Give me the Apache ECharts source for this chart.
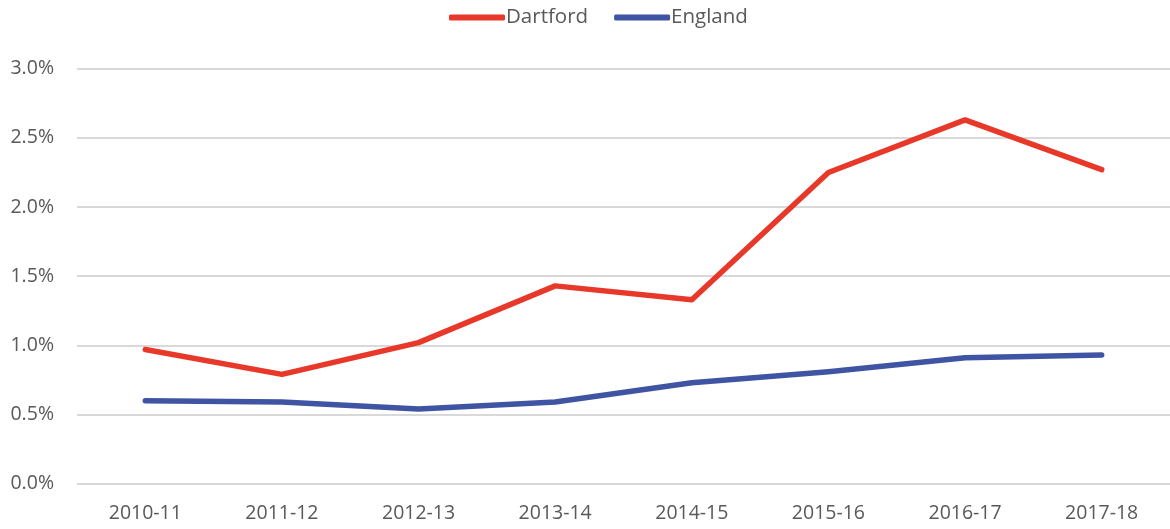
<!DOCTYPE html>
<html><head><meta charset="utf-8">
<script src="https://cdn.jsdelivr.net/npm/echarts@6/dist/echarts.min.js"></script>
<style>html,body{margin:0;padding:0;background:#fff}#c{width:1170px;height:529px}</style>
</head><body><div id="c"></div>
<script>
const categories = ['2010-11','2011-12','2012-13','2013-14','2014-15','2015-16','2016-17','2017-18'];
const dartford = [0.97, 0.79, 1.02, 1.43, 1.33, 2.25, 2.63, 2.27];
const england = [0.60, 0.59, 0.54, 0.59, 0.73, 0.81, 0.91, 0.93];
const seriesNames = ['Dartford', 'England'];
const font = 'Open Sans, Noto Sans, sans-serif';
const chart = echarts.init(document.getElementById('c'));
chart.setOption({
  animation: false,
  legend: {
    top: 7, left: 449, itemWidth: 56, itemHeight: 6, itemGap: 26, padding: 0,
    icon: 'roundRect',
    textStyle: { fontFamily: font, fontSize: 20.5, color: '#595959', padding: [0,0,0,-4] },
    data: seriesNames
  },
  grid: { left: 77, right: -6, top: 68.7, bottom: 45.3, containLabel: false },
  xAxis: {
    type: 'category', data: categories, boundaryGap: true,
    axisLine: { show: false }, axisTick: { show: false },
    axisLabel: { fontFamily: font, fontSize: 19.5, color: '#595959', margin: 20 }
  },
  yAxis: {
    type: 'value', min: 0, max: 3, interval: 0.5,
    axisLine: { show: false }, axisTick: { show: false },
    splitLine: { lineStyle: { color: '#d9d9d9', width: 2 } },
    axisLabel: { fontFamily: font, fontSize: 19.5, color: '#595959', margin: 23,
      formatter: v => v.toFixed(1) + '%' }
  },
  series: [
    { name: seriesNames[0], type: 'line', data: dartford, symbol: 'none',
      lineStyle: { color: '#E8382A', width: 5.5, cap: 'round', join: 'round' }, itemStyle: { color: '#E8382A' } },
    { name: seriesNames[1], type: 'line', data: england, symbol: 'none',
      lineStyle: { color: '#3F54A3', width: 5.5, cap: 'round', join: 'round' }, itemStyle: { color: '#3F54A3' } }
  ]
});
</script></body></html>
